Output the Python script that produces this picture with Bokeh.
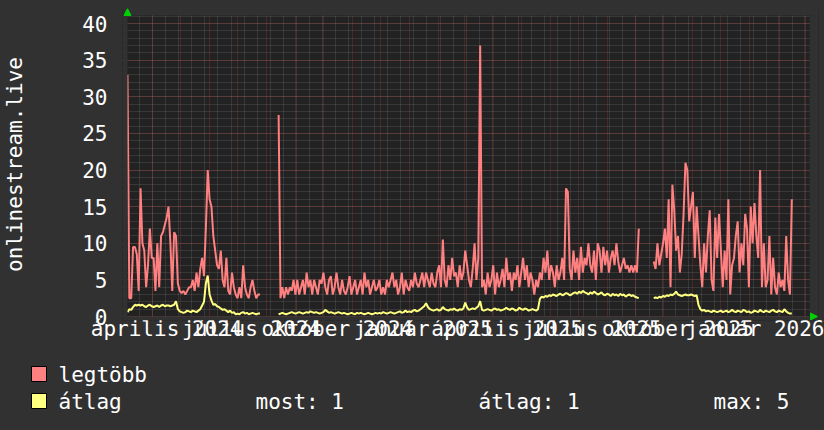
import math
from datetime import datetime, timedelta
from bokeh.plotting import figure
from bokeh.layouts import column
from bokeh.models import (Range1d, FixedTicker, SingleIntervalTicker,
                          BoxAnnotation, Arrow, NormalHead, ColumnDataSource)
from bokeh.core.properties import value
from bokeh.embed import file_html
from bokeh.resources import INLINE

# ---------------- data ----------------
START = datetime(2024, 3, 5)
STEP_DAYS = 2
RANGE_START = datetime(2024, 3, 5)
RANGE_END = datetime(2026, 3, 6)
Y_MAX = 41.1

legtobb_1 = [33, 2.5, 2.5, 9.5, 9.5, 8.5, 3.5, 17.5, 10, 9,
             4, 7, 12, 8, 8, 3.5, 10, 4, 11, 11.5,
             12.5, 13.5, 15, 10, 3.5, 11.5, 11, 4.5, 3.5, 3.2,
             3.5, 3, 3.5, 4, 4, 5, 3.5, 6, 4, 6.5,
             8, 5.5, 12, 20, 16, 15, 11, 9, 7, 6.5,
             9, 5, 4, 8, 3.5, 3, 6, 4, 3, 2.5,
             4, 2.5, 7, 4, 3, 2.5, 4, 5, 3.5, 2.5,
             3, 3]
legtobb_2 = [27.5, 2.5, 4, 2.5, 4, 3, 4, 3.5, 5, 3,
             5, 3, 4, 5, 3, 6, 4, 5, 3, 5,
             4, 3, 5, 4.5, 6, 4, 3, 5, 5.5, 3,
             4, 6, 4, 3, 5, 3.5, 3, 4, 5.5, 3,
             4, 5, 3, 4, 5, 3, 6, 4, 5, 3,
             4, 5, 3.5, 4, 5, 3, 4, 3, 5, 4,
             5, 6, 4, 5, 3, 4, 6, 3, 5, 4,
             3.5, 5, 4, 6, 4.5, 4, 5, 6, 4, 6,
             5, 4, 6, 4.5, 4, 6, 7, 4, 10.5, 5,
             4, 7, 5, 8, 5.5, 6, 4, 7, 5, 6,
             9, 7, 5, 4, 6.5, 10, 5, 8, 37, 4,
             5, 3, 6, 4, 5, 7, 3, 6, 4, 5,
             6.5, 4, 8, 5, 6, 3.5, 6, 5, 7, 4,
             6, 8, 5, 7, 4, 6, 5, 3, 5, 4,
             6, 5, 8, 6, 9, 5, 7, 6, 4, 7,
             5, 6, 8, 5, 17.5, 17, 6.5, 5, 9, 6,
             8, 5, 9.5, 6, 8, 7, 10, 7, 6, 9,
             5, 10, 9, 6, 9.5, 7, 9, 6, 8, 9,
             7, 10, 7.5, 6, 7, 8, 6.5, 7, 6, 7,
             6, 7, 6, 12]
legtobb_3 = [7.5, 6.5, 10, 7, 8.5, 10, 12, 8, 16, 4,
             18, 14.5, 9, 11, 6, 8.5, 14, 21, 20, 13,
             15, 17, 8, 15, 11, 7, 4, 10, 6, 11,
             14.5, 5, 3.5, 13.5, 8, 14, 9, 4, 9, 5,
             16, 3, 7, 8, 11, 13, 6, 10, 7, 14,
             12, 4, 15, 10, 15.5, 11, 8, 20, 4, 10,
             4, 5, 11, 3, 8, 4, 3, 6, 4, 5,
             3.5, 11, 5, 3, 16]

atlag_1 = [0.6, 1.0, 0.9, 1.3, 1.6, 1.5, 1.6, 1.5, 1.6, 1.4,
           1.3, 1.5, 1.6, 1.4, 1.3, 1.4, 1.5, 1.3, 1.5, 1.6,
           1.4, 1.5, 1.5, 1.4, 1.5, 1.6, 2.1, 1.0, 0.7, 0.6,
           0.5, 0.6, 0.8, 0.7, 0.6, 0.8, 0.7, 0.6, 0.8, 1.0,
           1.5, 2.0, 4.5, 5.6, 3.0, 2.2, 1.6, 1.7, 1.4, 1.3,
           1.1, 0.9, 1.0, 0.8, 0.6, 0.8, 0.5, 0.6, 0.3, 0.4,
           0.3, 0.5, 0.6, 0.4, 0.5, 0.3, 0.4, 0.5, 0.4, 0.3,
           0.4, 0.4]
atlag_2 = [0.3, 0.4, 0.5, 0.4, 0.3, 0.4, 0.5, 0.6, 0.5, 0.4, 0.5, 0.6, 0.5, 0.4, 0.5, 0.6, 0.5, 0.7, 0.6, 0.5,
           0.6, 0.5, 0.4, 0.5, 0.6, 0.9, 0.7, 0.5, 0.6, 0.5, 0.4, 0.5, 0.6, 0.5, 0.4, 0.5, 0.4, 0.3, 0.4, 0.5,
           0.4, 0.3, 0.5, 0.4, 0.5, 0.4, 0.3, 0.4, 0.5, 0.4, 0.3, 0.4, 0.5, 0.4, 0.5, 0.4, 0.6, 0.5, 0.4, 0.5,
           0.6, 0.5, 0.4, 0.5, 0.6, 0.7, 0.5, 0.6, 0.8, 0.6, 0.7, 0.6, 0.8, 0.9, 0.7, 0.8, 1.0, 1.2, 1.4, 1.8,
           1.3, 1.0, 0.9, 0.8, 0.9, 1.0, 0.8, 0.9, 1.3, 1.0, 0.9, 0.8, 1.0, 0.9, 1.1, 0.9, 0.8, 1.0, 0.9, 1.1,
           1.9, 1.2, 0.9, 1.0, 1.1, 1.0, 1.2, 1.4, 2.1, 0.9, 0.8, 0.9, 1.0, 0.9, 0.8, 1.0, 1.1, 0.9, 1.0, 0.8,
           0.9, 1.0, 1.2, 1.0, 0.9, 1.1, 1.0, 0.8, 0.9, 1.2, 1.0, 0.9, 1.1, 1.0, 0.8, 0.9, 1.0, 0.9, 0.8, 1.0,
           2.4, 2.7, 2.6, 2.8, 2.7, 2.9, 2.8, 3.0, 2.9, 2.8, 3.0, 3.1, 2.9, 3.0, 3.2, 3.1, 2.9, 3.0, 3.2, 3.3,
           3.1, 3.4, 3.2, 3.5, 3.3, 3.2, 3.0, 3.3, 3.1, 3.4, 3.2, 3.0, 3.1, 3.3, 3.0, 2.9, 3.1, 3.0, 2.8, 3.1,
           2.9, 3.0, 2.8, 3.1, 2.9, 3.0, 2.7, 2.9, 3.0, 2.8, 2.9, 2.7, 2.6, 2.5]
atlag_3 = [2.5, 2.6, 2.5, 2.7, 2.6, 2.8, 2.7, 2.9, 2.8, 3.0, 2.9, 3.1, 3.4, 3.0, 2.9, 2.8, 2.9, 3.0, 2.9,
           2.9, 3.0, 2.9, 2.8, 2.9, 1.6, 1.0, 0.8, 0.9, 0.7, 0.8, 0.7, 0.6, 0.8, 0.7, 0.6, 0.7, 0.8, 0.6, 0.7,
           0.8, 0.6, 0.7, 0.9, 0.7, 0.6, 0.8, 0.7, 0.6, 0.9, 0.8, 0.6, 0.7, 0.5, 0.6, 0.8, 0.7, 0.6, 0.9, 0.7,
           0.6, 0.8, 0.7, 0.6, 0.8, 0.9, 0.7, 0.6, 0.8, 0.7, 0.6, 1.0, 0.7, 0.5, 0.4, 0.4]

GAP_A, GAP_B, GAP_END = 9, 7, 9

x_labels = ["április 2024", "július 2024", "október 2024", "január 2025",
            "április 2025", "július 2025", "október 2025", "január 2026"]
label_months = [(2024, 4), (2024, 7), (2024, 10), (2025, 1),
                (2025, 4), (2025, 7), (2025, 10), (2026, 1)]
series_names = ["legtöbb", "átlag"]
stats = ["most: 1", "átlag: 1", "max: 5"]
y_title = "onlinestream.live"

RED = "#ff8080"
YELLOW = "#ffff80"
BACK = "#313131"
CANVAS = "#222222"
FONT = "DejaVu Sans Mono"
FSIZE = "21px"

# ---------------- helpers ----------------
EPOCH = datetime(1970, 1, 1)
def ms(d):
    return (d - EPOCH).total_seconds() * 1000.0
DAY = 86400000.0

def build(a, b, c):
    vals = a + [None] * GAP_A + b + [None] * GAP_B + c + [None] * GAP_END
    return [float("nan") if v is None else v for v in vals]

red_vals = build(legtobb_1, legtobb_2, legtobb_3)
yel_vals = build(atlag_1, atlag_2, atlag_3)
xs = [ms(START + timedelta(days=STEP_DAYS * i)) for i in range(len(red_vals))]
src = ColumnDataSource(dict(x=xs, red=red_vals, yel=yel_vals))

month_ticks = []
yy, mm = 2024, 4
while datetime(yy, mm, 1) <= RANGE_END:
    month_ticks.append(ms(datetime(yy, mm, 1)))
    mm += 1
    if mm == 13:
        yy, mm = yy + 1, 1
week_ticks = []
d = datetime(2024, 3, 18)
while d <= RANGE_END:
    week_ticks.append(ms(d))
    d += timedelta(days=14)

LABEL_SHIFT_DAYS = 15
label_pos = [ms(datetime(a, b, 1) + timedelta(days=LABEL_SHIFT_DAYS)) for a, b in label_months]
overrides = {lp: t for lp, t in zip(label_pos, x_labels)}

# ---------------- main chart ----------------
PX_PER_DAY = 685.0 / ((RANGE_END - RANGE_START).days)
PX_PER_UNIT = 301.0 / Y_MAX
x0 = ms(RANGE_START) - (5 / PX_PER_DAY) * DAY
x1 = ms(RANGE_END) + (9 / PX_PER_DAY) * DAY
y0 = -4 / PX_PER_UNIT
y1 = Y_MAX + 7 / PX_PER_UNIT

TOP_H = 348
p = figure(width=824, height=TOP_H, output_backend="svg", toolbar_location=None,
           x_range=Range1d(x0, x1), y_range=Range1d(y0, y1),
           background_fill_color=CANVAS, border_fill_color=BACK,
           outline_line_color=None,
           min_border_left=119, min_border_right=6, min_border_top=8, min_border_bottom=28)

p.xgrid.ticker = FixedTicker(ticks=month_ticks, minor_ticks=week_ticks)
p.ygrid.ticker = SingleIntervalTicker(interval=5, num_minor_ticks=5)
for g in (p.xgrid, p.ygrid):
    g.grid_line_color = "#ff4848"
    g.grid_line_alpha = 0.36
    g.grid_line_dash = "1 1"
    g.grid_line_width = 1
    g.minor_grid_line_color = "#9a9a9a"
    g.minor_grid_line_alpha = 0.36
    g.minor_grid_line_dash = "1 1"
    g.minor_grid_line_width = 1

p.xaxis.ticker = FixedTicker(ticks=label_pos)
p.xaxis.major_label_overrides = overrides
p.yaxis.ticker = SingleIntervalTicker(interval=5)
for ax in (p.xaxis[0], p.yaxis[0]):
    ax.axis_line_color = None
    ax.major_tick_line_color = None
    ax.minor_tick_line_color = None
    ax.major_tick_out = 0
    ax.major_tick_in = 0
    ax.major_label_text_font = FONT
    ax.major_label_text_font_size = FSIZE
    ax.major_label_text_color = "#ffffff"
p.yaxis.major_label_standoff = 11
p.xaxis.major_label_standoff = -4
p.yaxis.axis_label = y_title
p.yaxis.axis_label_text_font = FONT
p.yaxis.axis_label_text_font_size = FSIZE
p.yaxis.axis_label_text_font_style = "normal"
p.yaxis.axis_label_text_color = "#ffffff"
p.yaxis.axis_label_standoff = 52

p.line("x", "red", source=src, line_color=RED, line_width=2)
p.line("x", "yel", source=src, line_color=YELLOW, line_width=2)

for kw in (dict(right=ms(RANGE_START)), dict(left=ms(RANGE_END)),
           dict(top=0), dict(bottom=Y_MAX)):
    p.add_layout(BoxAnnotation(fill_color=BACK, fill_alpha=1, line_alpha=0, **kw))

head = dict(size=7, fill_color="#00d000", line_color="#00d000")
p.add_layout(Arrow(end=NormalHead(**head), x_start=ms(RANGE_START), y_start=Y_MAX,
                   x_end=ms(RANGE_START), y_end=y1, line_alpha=0))
p.add_layout(Arrow(end=NormalHead(**head), x_start=ms(RANGE_END), y_start=0,
                   x_end=x1 - (1 / PX_PER_DAY) * DAY, y_end=0, line_alpha=0))

# ---------------- legend strip (separate figure, pixel coordinates) ----------------
LEG_H = 430 - TOP_H
q = figure(width=824, height=LEG_H, output_backend="svg", toolbar_location=None,
           x_range=Range1d(0, 824), y_range=Range1d(LEG_H, 0),
           background_fill_color=BACK, border_fill_color=BACK, outline_line_color=None,
           min_border_left=0, min_border_right=0, min_border_top=0, min_border_bottom=0,
           x_axis_location=None, y_axis_location=None)
q.grid.visible = False
for fig in (p, q):
    try:
        fig.frame_align = False
    except Exception:
        pass

row_y = [374 - TOP_H, 401 - TOP_H]
q.quad(left=[31, 31], right=[46, 46], top=[y - 8 for y in row_y], bottom=[y + 7 for y in row_y],
       fill_color=[RED, YELLOW], line_color="black", line_width=1)
q.text(x=[58, 58], y=row_y, text=series_names, text_font=value(FONT),
       text_font_size=FSIZE, text_color="#ffffff", text_baseline="middle")
q.text(x=[255, 478, 713], y=[row_y[1]] * 3, text=stats, text_font=value(FONT),
       text_font_size=FSIZE, text_color="#ffffff", text_baseline="middle")

layout = column(p, q, spacing=0)
try:
    layout.styles = {"background-color": BACK}
except Exception:
    pass
open("out.html", "w").write(file_html(layout, INLINE))
